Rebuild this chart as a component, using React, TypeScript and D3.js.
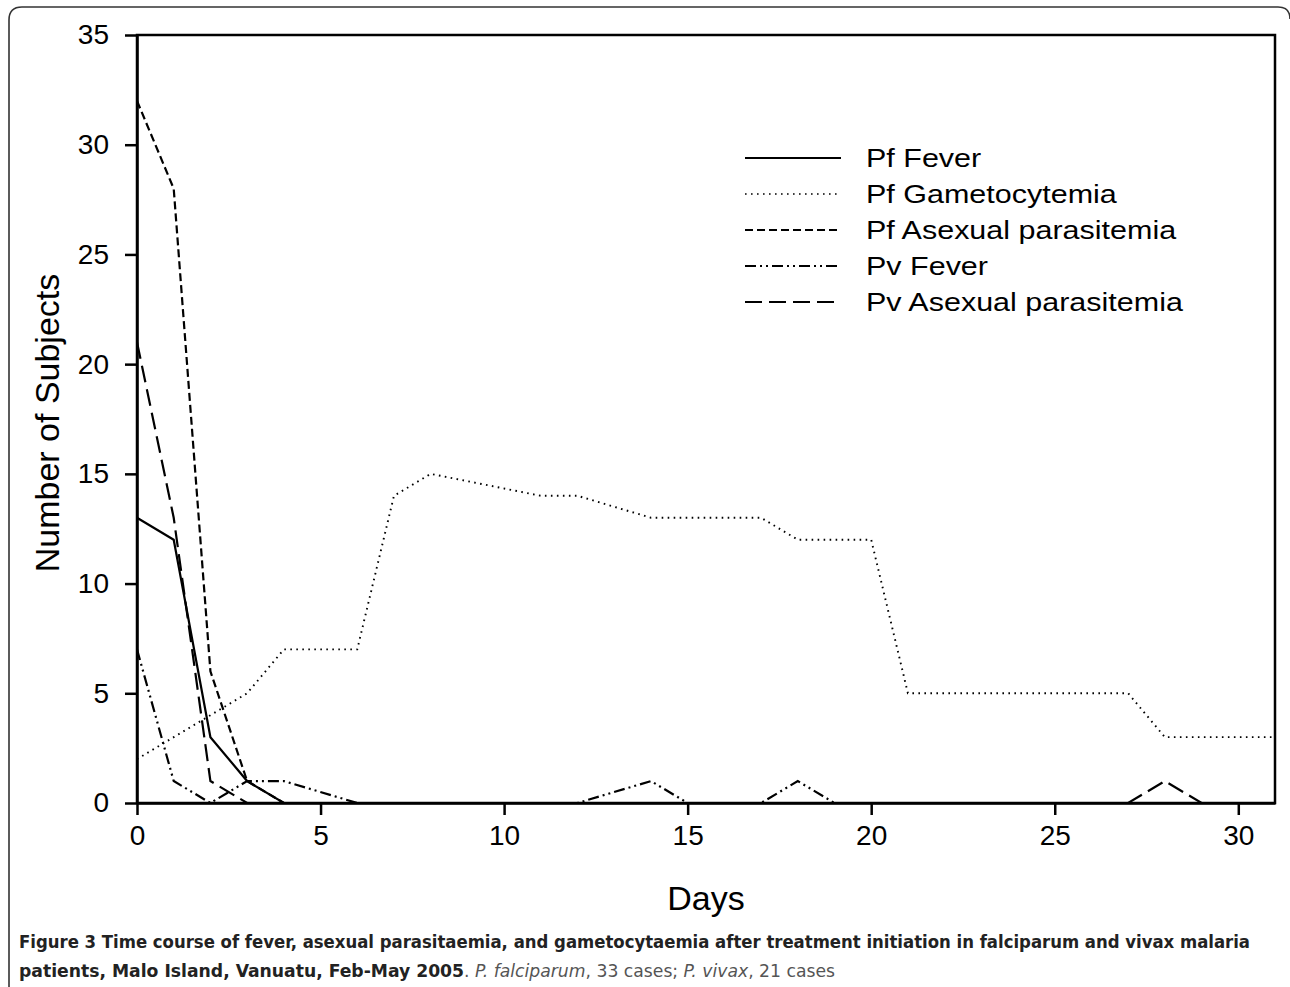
import React, { useRef, useEffect } from 'react';
import * as d3 from 'd3';

// sampling days (null = no observation that day, line joins across it)
const days = [0, 1, 2, 3, 4, 5, 6, 7, 8, 9, 10, 11, 12, 13, 14, 15, 16, 17, 18, 19, 20, 21, 22, 23, 24, 25, 26, 27, 28, 29, 30, 31];

const pfFever = [13, 12, 3, 1, 0, null, 0, 0, 0, null, null, 0, 0, null, 0, 0, 0, 0, 0, 0, 0, 0, 0, 0, 0, 0, 0, 0, 0, 0, 0, 0];
const pfGametocytemia = [2, 3, 4, 5, 7, null, 7, 14, 15, null, null, 14, 14, null, 13, 13, 13, 13, 12, 12, 12, 5, 5, 5, 5, 5, 5, 5, 3, 3, 3, 3];
const pfAsexual = [32, 28, 6, 1, 0, null, 0, 0, 0, null, null, 0, 0, null, 0, 0, 0, 0, 0, 0, 0, 0, 0, 0, 0, 0, 0, 0, 0, 0, 0, 0];
const pvFever = [7, 1, 0, 1, 1, null, 0, 0, 0, null, null, 0, 0, null, 1, 0, 0, 0, 1, 0, 0, 0, 0, 0, 0, 0, 0, 0, 0, 0, 0, 0];
const pvAsexual = [21, 13, 1, 0, 0, null, 0, 0, 0, null, null, 0, 0, null, 0, 0, 0, 0, 0, 0, 0, 0, 0, 0, 0, 0, 0, 0, 1, 0, 0, 0];

const seriesNames = ['Pf Fever', 'Pf Gametocytemia', 'Pf Asexual parasitemia', 'Pv Fever', 'Pv Asexual parasitemia'];
const seriesValues = [pfFever, pfGametocytemia, pfAsexual, pvFever, pvAsexual];
const seriesDash = ['none', '1.6,4.4', '8,4', '11,4,2,4,2,4', '17,7'];

const xTicks = [0, 5, 10, 15, 20, 25, 30];
const yTicks = [0, 5, 10, 15, 20, 25, 30, 35];

function App() {
  const svgRef = useRef<SVGSVGElement>(null);

  useEffect(() => {
    const svg = d3.select(svgRef.current);
    svg.selectAll('*').remove();

    const width = 1290;
    const height = 987;
    const margin = { top: 35, right: 15, bottom: 184, left: 137 };
    const font = '"Liberation Sans", Arial, sans-serif';

    // outer figure frame, rounded top corners, open at the bottom
    svg.append('path')
      .attr('d', `M9,${height} L9,20 Q9,7 22,7 L1278,7 Q1290,7 1290,19`)
      .attr('fill', 'none')
      .attr('stroke', '#333')
      .attr('stroke-width', 1.6);

    const x = d3.scaleLinear()
      .domain([0, 31])
      .range([margin.left, width - margin.right]);

    const y = d3.scaleLinear()
      .domain([0, 35])
      .range([height - margin.bottom, margin.top]);

    // lines
    seriesValues.forEach((vals, i) => {
      const pts = days
        .map((d, j) => ({ d, v: vals[j] }))
        .filter(p => p.v !== null) as { d: number; v: number }[];
      const line = d3.line<{ d: number; v: number }>()
        .x(p => x(p.d))
        .y(p => y(p.v));
      svg.append('path')
        .datum(pts)
        .attr('d', line)
        .attr('fill', 'none')
        .attr('stroke', '#000')
        .attr('stroke-width', i === 1 ? 1.9 : 2.2)
        .attr('stroke-dasharray', seriesDash[i]);
    });

    // box frame
    svg.append('rect')
      .attr('x', x(0))
      .attr('y', y(35))
      .attr('width', x(31) - x(0))
      .attr('height', y(0) - y(35))
      .attr('fill', 'none')
      .attr('stroke', '#000')
      .attr('stroke-width', 2.5);

    const xAxis = svg.append('g')
      .attr('transform', `translate(0, ${y(0)})`)
      .call(d3.axisBottom(x).tickValues(xTicks).tickSize(12).tickPadding(10).tickSizeOuter(0));
    xAxis.select('.domain').attr('stroke-width', 2.5);
    xAxis.selectAll('.tick line').attr('stroke-width', 2.5);
    xAxis.selectAll('.tick text')
      .attr('font-family', font)
      .attr('font-size', 28)
      .attr('fill', '#000');

    const yAxis = svg.append('g')
      .attr('transform', `translate(${x(0)}, 0)`)
      .call(d3.axisLeft(y).tickValues(yTicks).tickSize(12).tickPadding(16).tickSizeOuter(0));
    yAxis.select('.domain').attr('stroke-width', 2.5);
    yAxis.selectAll('.tick line').attr('stroke-width', 2.5);
    yAxis.selectAll('.tick text')
      .attr('font-family', font)
      .attr('font-size', 28)
      .attr('fill', '#000');

    // axis titles
    svg.append('text')
      .attr('x', (x(0) + x(31)) / 2)
      .attr('y', 910)
      .attr('text-anchor', 'middle')
      .attr('font-family', font)
      .attr('font-size', 34)
      .text('Days');

    svg.append('text')
      .attr('transform', `translate(59, ${(y(0) + y(35)) / 2 + 4}) rotate(-90)`)
      .attr('text-anchor', 'middle')
      .attr('font-family', font)
      .attr('font-size', 34)
      .text('Number of Subjects');

    // legend
    const legend = svg.append('g');
    seriesNames.forEach((name, i) => {
      const cy = 158 + i * 36;
      legend.append('line')
        .attr('x1', 745)
        .attr('x2', 841)
        .attr('y1', cy)
        .attr('y2', cy)
        .attr('stroke', '#000')
        .attr('stroke-width', i === 1 ? 1.5 : 2.2)
        .attr('stroke-dasharray', seriesDash[i]);
      legend.append('g')
        .attr('transform', `translate(866, ${cy + 9}) scale(1.22, 1)`)
        .append('text')
        .attr('font-family', font)
        .attr('font-size', 25)
        .text(name);
    });

    // caption
    const capFont = '"Liberation Sans Narrow", "DejaVu Sans Condensed", "Open Sans", sans-serif';
    const cap1 = svg.append('text')
      .attr('x', 19)
      .attr('y', 948)
      .attr('font-family', capFont)
      .attr('font-size', 18)
      .attr('font-weight', 'bold')
      .attr('fill', '#222')
      .attr('textLength', 1231)
      .attr('lengthAdjust', 'spacingAndGlyphs');
    cap1.text('Figure 3 Time course of fever, asexual parasitaemia, and gametocytaemia after treatment initiation in falciparum and vivax malaria');

    const cap2 = svg.append('text')
      .attr('x', 19)
      .attr('y', 977)
      .attr('font-family', capFont)
      .attr('font-size', 18)
      .attr('fill', '#222')
      .attr('textLength', 816)
      .attr('lengthAdjust', 'spacingAndGlyphs');
    cap2.append('tspan').attr('font-weight', 'bold').text('patients, Malo Island, Vanuatu, Feb-May 2005');
    cap2.append('tspan').attr('fill', '#555').text('. ');
    cap2.append('tspan').attr('fill', '#555').attr('font-style', 'italic').text('P. falciparum');
    cap2.append('tspan').attr('fill', '#555').text(', 33 cases; ');
    cap2.append('tspan').attr('fill', '#555').attr('font-style', 'italic').text('P. vivax');
    cap2.append('tspan').attr('fill', '#555').text(', 21 cases');
  }, []);

  return (
    <svg
      ref={svgRef}
      width={1290}
      height={987}
      style={{ position: 'fixed', left: 0, top: 0, background: '#fff' }}
    ></svg>
  );
}

export default App;
